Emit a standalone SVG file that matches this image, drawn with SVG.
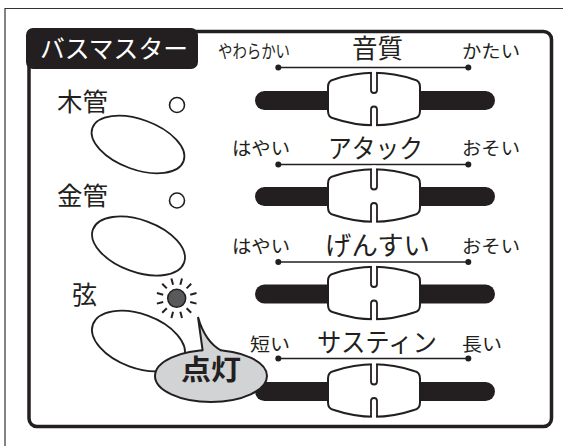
<svg xmlns="http://www.w3.org/2000/svg" xmlns:xlink="http://www.w3.org/1999/xlink" width="563" height="446" viewBox="0 0 563 446">
<style>
.t{font-family:"Noto Sans CJK JP","Noto Sans",sans-serif;fill:#231f20}
.sm{font-size:18px}
.ti{font-size:26px}
.lb{font-size:25px}
.ink{stroke:#231f20;fill:none}
</style>
<defs>
<g id="knob">
<path d="M-46,-12 Q-46,-18.5 -40,-19.5 Q0,-33 40,-19.5 Q46,-18.5 46,-12 L46,12 Q46,18.5 40,19.5 Q0,33 -40,19.5 Q-46,18.5 -46,12 Z" fill="#fff" stroke="#231f20" stroke-width="2"/>
<rect x="-2.1" y="-30" width="4.2" height="8" fill="#fff"/>
<rect x="-2.1" y="22" width="4.2" height="8" fill="#fff"/>
<path d="M-3,-26.5 L-3,-9 A3,3 0 0 0 3,-9 L3,-26.5 M-3,26.5 L-3,10.5 A3,3 0 0 1 3,10.5 L3,26.5" fill="none" stroke="#231f20" stroke-width="1.8"/>
</g>
</defs>
<rect width="563" height="446" fill="#fff"/>
<path d="M5,446 L5,8.5 L563,8.5" fill="none" stroke="#333" stroke-width="1.2"/>
<rect x="29" y="31.5" width="522.5" height="395" rx="8" fill="#fff" stroke="#231f20" stroke-width="3.5"/>
<g id="title">
<rect x="26" y="28" width="172" height="41" rx="7" fill="#231f20"/>
<text x="40" y="58" class="t" style="fill:#fff;font-size:25px" textLength="148" lengthAdjust="spacingAndGlyphs">バスマスター</text>
</g>
<g id="connectors">
<g id="ranges" stroke="#231f20" stroke-width="1.5">
<line x1="278.3" y1="67.5" x2="468.3" y2="67.5"/>
<line x1="278.3" y1="164.5" x2="468.3" y2="164.5"/>
<line x1="278.3" y1="262" x2="468.3" y2="262"/>
<line x1="278.3" y1="358.5" x2="468.3" y2="358.5"/>
</g>
<g fill="#231f20">
<circle cx="278.3" cy="67.5" r="3"/><circle cx="468.3" cy="67.5" r="3"/>
<circle cx="278.3" cy="164.5" r="3"/><circle cx="468.3" cy="164.5" r="3"/>
<circle cx="278.3" cy="262" r="3"/><circle cx="468.3" cy="262" r="3"/>
<circle cx="278.3" cy="358.5" r="3"/><circle cx="468.3" cy="358.5" r="3"/>
</g>
</g>
<g id="slider-tone">
<line x1="264.5" y1="100.5" x2="485.5" y2="100.5" stroke="#231f20" stroke-width="19" stroke-linecap="round"/>
<use xlink:href="#knob" x="374" y="99"/>
<text x="290" y="57.5" class="t sm" text-anchor="end" textLength="72" lengthAdjust="spacingAndGlyphs">やわらかい</text>
<text x="377.5" y="57.5" class="t ti" text-anchor="middle" textLength="51" lengthAdjust="spacingAndGlyphs">音質</text>
<text x="462" y="57.5" class="t sm" textLength="58" lengthAdjust="spacingAndGlyphs">かたい</text>
</g>
<g id="slider-attack">
<line x1="264.5" y1="196.5" x2="485.5" y2="196.5" stroke="#231f20" stroke-width="19" stroke-linecap="round"/>
<use xlink:href="#knob" x="374" y="195.5"/>
<text x="290" y="155" class="t sm" text-anchor="end" textLength="58" lengthAdjust="spacingAndGlyphs">はやい</text>
<text x="375.5" y="158" class="t ti" text-anchor="middle" textLength="95" lengthAdjust="spacingAndGlyphs">アタック</text>
<text x="462" y="155" class="t sm" textLength="58" lengthAdjust="spacingAndGlyphs">おそい</text>
</g>
<g id="slider-decay">
<line x1="264.5" y1="294" x2="485.5" y2="294" stroke="#231f20" stroke-width="19" stroke-linecap="round"/>
<use xlink:href="#knob" x="374" y="293"/>
<text x="290" y="253" class="t sm" text-anchor="end" textLength="58" lengthAdjust="spacingAndGlyphs">はやい</text>
<text x="377.5" y="255" class="t ti" text-anchor="middle" textLength="105" lengthAdjust="spacingAndGlyphs">げんすい</text>
<text x="462" y="253" class="t sm" textLength="58" lengthAdjust="spacingAndGlyphs">おそい</text>
</g>
<g id="slider-sustain">
<line x1="264.5" y1="391.5" x2="485.5" y2="391.5" stroke="#231f20" stroke-width="19" stroke-linecap="round"/>
<use xlink:href="#knob" x="374" y="390.5"/>
<text x="290" y="351" class="t sm" text-anchor="end" textLength="40" lengthAdjust="spacingAndGlyphs">短い</text>
<text x="377" y="352" class="t ti" text-anchor="middle" textLength="120" lengthAdjust="spacingAndGlyphs">サスティン</text>
<text x="462" y="351" class="t sm" textLength="40" lengthAdjust="spacingAndGlyphs">長い</text>
</g>
<g id="btn-wood">
<text x="57" y="111" class="t lb" textLength="51" lengthAdjust="spacingAndGlyphs">木管</text>
<circle cx="177" cy="105" r="7.5" class="ink" stroke-width="1.6"/>
<ellipse cx="138" cy="144.5" rx="48.5" ry="25" transform="rotate(20 138 144.5)" class="ink" stroke-width="1.8"/>
</g>
<g id="btn-brass">
<text x="57" y="205" class="t lb" textLength="51" lengthAdjust="spacingAndGlyphs">金管</text>
<circle cx="177" cy="200.5" r="7.5" class="ink" stroke-width="1.6"/>
<ellipse cx="138.5" cy="246" rx="48.5" ry="26" transform="rotate(20 138.5 246)" class="ink" stroke-width="1.8"/>
</g>
<g id="btn-strings">
<text x="72" y="304" class="t lb" textLength="25" lengthAdjust="spacingAndGlyphs">弦</text>
<ellipse cx="138.5" cy="341" rx="48.5" ry="27" transform="rotate(20 138.5 341)" class="ink" stroke-width="1.8"/>
<circle cx="176.7" cy="298.3" r="9" fill="#58595b" stroke="#231f20" stroke-width="1.5"/>
<g stroke="#231f20" stroke-width="2" transform="translate(176.7 298.3)">
<line x1="14" y1="0" x2="20.5" y2="0" transform="rotate(15)"/>
<line x1="14" y1="0" x2="20.5" y2="0" transform="rotate(45)"/>
<line x1="14" y1="0" x2="20.5" y2="0" transform="rotate(75)"/>
<line x1="14" y1="0" x2="20.5" y2="0" transform="rotate(105)"/>
<line x1="14" y1="0" x2="20.5" y2="0" transform="rotate(135)"/>
<line x1="14" y1="0" x2="20.5" y2="0" transform="rotate(165)"/>
<line x1="14" y1="0" x2="20.5" y2="0" transform="rotate(195)"/>
<line x1="14" y1="0" x2="20.5" y2="0" transform="rotate(225)"/>
<line x1="14" y1="0" x2="20.5" y2="0" transform="rotate(255)"/>
<line x1="14" y1="0" x2="20.5" y2="0" transform="rotate(285)"/>
<line x1="14" y1="0" x2="20.5" y2="0" transform="rotate(315)"/>
<line x1="14" y1="0" x2="20.5" y2="0" transform="rotate(345)"/>
</g>
</g>
<g id="callout">
<ellipse cx="211" cy="376" rx="56" ry="26" fill="#d1d3d4" stroke="#231f20" stroke-width="2"/>
<path d="M198,317 L203.5,356 L224,356 L222,351 Q205,342 198,317 Z" fill="#d1d3d4"/>
<path d="M202.7,350.8 L198,317 Q205,342 221.8,350.9" fill="none" stroke="#231f20" stroke-width="2" stroke-linejoin="miter"/>
<text x="181" y="380" class="t" style="font-size:28px;font-weight:bold" textLength="60" lengthAdjust="spacingAndGlyphs">点灯</text>
</g>
</svg>
